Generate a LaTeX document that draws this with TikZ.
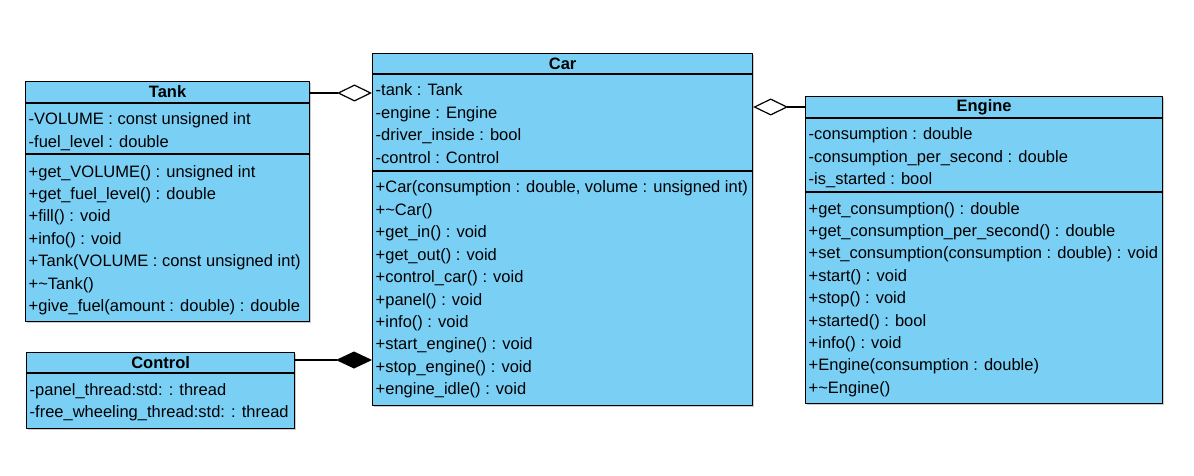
\documentclass[tikz,border=0pt]{standalone}
\usepackage{fontspec}
\setmainfont{Liberation Sans}
\usetikzlibrary{arrows.meta,shadows}
\definecolor{umlblue}{HTML}{7ACFF5}
\begin{document}
\begin{tikzpicture}[x=1pt,y=-1pt,line join=round,
    classbox/.style={draw, line width=1.2pt, fill=umlblue, anchor=north west, inner sep=0pt,
      drop shadow={shadow xshift=1.5pt, shadow yshift=-1.5pt, fill=black, opacity=.2}},
    classname/.style={font=\fontsize{16.5}{18}\selectfont\bfseries, inner sep=0pt},
    member/.style={font=\fontsize{16.5}{18}\selectfont, anchor=base west, inner sep=0pt},
    divider/.style={line width=1.2pt},
    aggregation/.style={{Diamond[fill=white, length=35pt, width=17pt]}-, line width=1.2pt},
    composition/.style={{Diamond[length=36pt, width=17pt]}-, line width=1.2pt}]

  \useasboundingbox (0,0) rectangle (1194,476);

  % Tank
  \node[classbox, minimum width=284pt, minimum height=240pt] (tank) at (25,81) {};
  \node[classname] (tank-name) at ([yshift=-11pt]tank.north) {Tank};
  \draw[divider] ([yshift=-22pt]tank.north west) -- ([yshift=-22pt]tank.north east);
  \draw[divider] ([yshift=-73pt]tank.north west) -- ([yshift=-73pt]tank.north east);
  \foreach \t [count=\i from 0] in {-VOLUME : const unsigned int, -fuel\_level : double}
    \node[member] (tank-a\i) at (28.5, 125+22.4*\i) {\t};
  \foreach \t [count=\i from 0] in {+get\_VOLUME() : unsigned int, +get\_fuel\_level() : double,
      +fill() : void, +info() : void, +Tank(VOLUME : const unsigned int), +\textasciitilde Tank(),
      +give\_fuel(amount : double) : double}
    \node[member] (tank-m\i) at (28.5, 177+22.4*\i) {\t};

  % Car
  \node[classbox, minimum width=380pt, minimum height=352pt] (car) at (372,53) {};
  \node[classname] (car-name) at ([yshift=-10.5pt]car.north) {Car};
  \draw[divider] ([yshift=-21pt]car.north west) -- ([yshift=-21pt]car.north east);
  \draw[divider] ([yshift=-118pt]car.north west) -- ([yshift=-118pt]car.north east);
  \foreach \t [count=\i from 0] in {-tank : Tank, -engine : Engine, -driver\_inside : bool, -control : Control}
    \node[member] (car-a\i) at (375.5, 96+22.4*\i) {\t};
  \foreach \t [count=\i from 0] in {{+Car(consumption : double, volume : unsigned int)}, +\textasciitilde Car(),
      +get\_in() : void, +get\_out() : void, +control\_car() : void, +panel() : void, +info() : void,
      +start\_engine() : void, +stop\_engine() : void, +engine\_idle() : void}
    \node[member] (car-m\i) at (375.5, 193+22.4*\i) {\t};

  % Engine
  \node[classbox, minimum width=357pt, minimum height=307pt] (engine) at (805,96) {};
  \node[classname] (engine-name) at ([yshift=-11pt]engine.north) {Engine};
  \draw[divider] ([yshift=-22pt]engine.north west) -- ([yshift=-22pt]engine.north east);
  \draw[divider] ([yshift=-96pt]engine.north west) -- ([yshift=-96pt]engine.north east);
  \foreach \t [count=\i from 0] in {-consumption : double, -consumption\_per\_second : double, -is\_started : bool}
    \node[member] (engine-a\i) at (808.5, 140+22.4*\i) {\t};
  \foreach \t [count=\i from 0] in {+get\_consumption() : double, +get\_consumption\_per\_second() : double,
      +set\_consumption(consumption : double) : void, +start() : void, +stop() : void, +started() : bool,
      +info() : void, +Engine(consumption : double), +\textasciitilde Engine()}
    \node[member] (engine-m\i) at (808.5, 214+22.4*\i) {\t};

  % Control
  \node[classbox, minimum width=268pt, minimum height=76pt] (control) at (26,352) {};
  \node[classname] (control-name) at ([yshift=-10.5pt]control.north) {Control};
  \draw[divider] ([yshift=-21pt]control.north west) -- ([yshift=-21pt]control.north east);
  \foreach \t [count=\i from 0] in {-panel\_thread:std: : thread, -free\_wheeling\_thread:std: : thread}
    \node[member] (control-a\i) at (29.5, 395+22.4*\i) {\t};

  % links
  \coordinate (tank-link) at ([yshift=-12pt]tank.north east);
  \coordinate (engine-link) at ([yshift=-11pt]engine.north west);
  \coordinate (control-link) at ([yshift=-8pt]control.north east);
  \draw[aggregation] (car.west |- tank-link) -- (tank-link);
  \draw[aggregation] (car.east |- engine-link) -- (engine-link);
  \draw[composition] (car.west |- control-link) -- (control-link);
\end{tikzpicture}
\end{document}
